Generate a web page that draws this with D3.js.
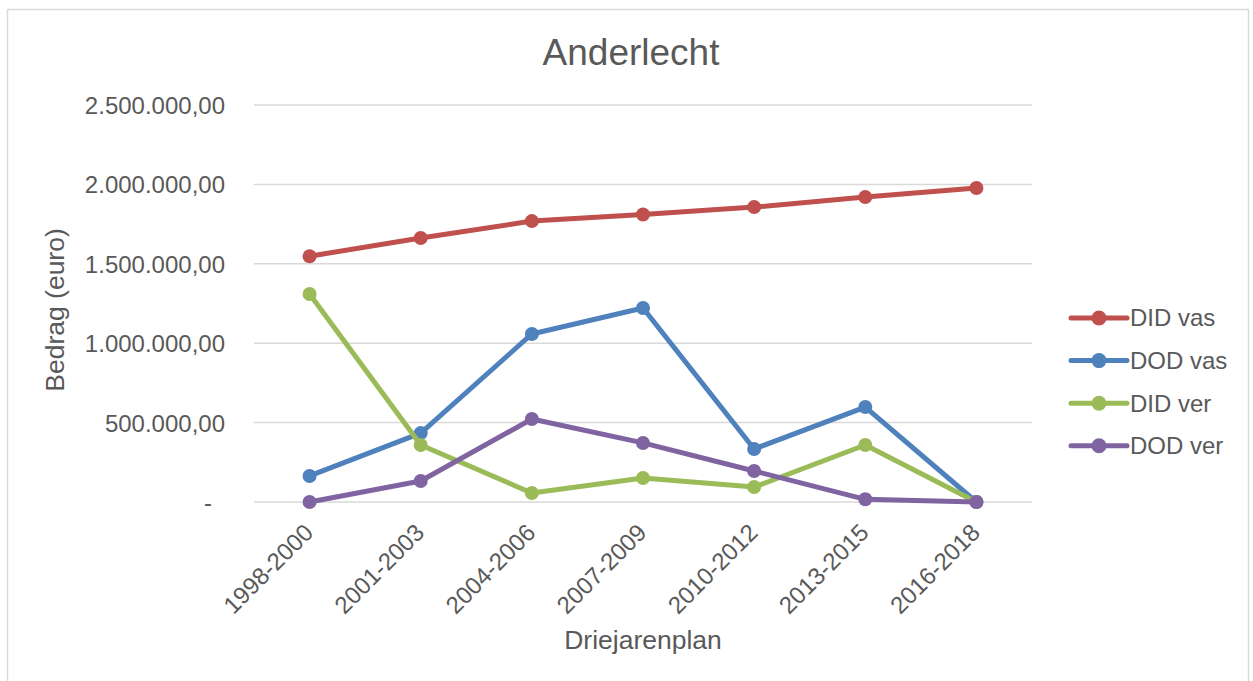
<!DOCTYPE html>
<html><head><meta charset="utf-8">
<script src="https://cdn.jsdelivr.net/npm/d3@7"></script>
<style>body{margin:0;background:#fff;} text{font-family:"Liberation Sans",Arial,sans-serif;fill:#595959;}</style>
</head><body>
<svg id="c" width="1253" height="681"></svg>
<script>
const categories = ["1998-2000","2001-2003","2004-2006","2007-2009","2010-2012","2013-2015","2016-2018"];
const seriesNames = ["DID vas","DOD vas","DID ver","DOD ver"];
const didVas = [1548000,1662000,1769000,1810000,1857000,1920000,1977000];
const dodVas = [164000,434000,1058000,1222000,334000,598000,0];
const didVer = [1310000,359000,57000,151000,94000,359000,0];
const dodVer = [0,132000,523000,372000,195000,17000,0];
const yTicks = [0,500000,1000000,1500000,2000000,2500000];
const colors = ["#C0504D","#4F81BD","#9BBB59","#8064A2"];
const allSeries = [didVas,dodVas,didVer,dodVer];

const svg = d3.select("#c");
svg.append("rect").attr("x",7.5).attr("y",9.5).attr("width",1241).attr("height",680).attr("fill","#fff").attr("stroke","#d9d9d9").attr("stroke-width",1.5);

const x = d3.scaleBand().domain(categories).range([254,1032]);
const y = d3.scaleLinear().domain([0,2500000]).range([502,105]);

const fmt = v => v===0 ? "-" : d3.formatLocale({decimal:",",thousands:".",grouping:[3]}).format(",.2f")(v);

// gridlines
svg.append("g").selectAll("line").data(yTicks).join("line")
  .attr("x1",254).attr("x2",1032).attr("y1",d=>y(d)).attr("y2",d=>y(d))
  .attr("stroke","#d9d9d9").attr("stroke-width",1.5);

// y axis labels
const yAxis = d3.axisLeft(y).tickValues(yTicks).tickFormat(fmt).tickSize(0).tickPadding(29);
const gy = svg.append("g").attr("transform","translate(254,0)").call(yAxis);
gy.select(".domain").remove();
gy.selectAll("text").style("font-size","24px").attr("fill","#595959").attr("dy","0.35em")
  .attr("dx",d=>d===0?-13:0);

// x axis labels
const xAxis = d3.axisBottom(x).tickSize(0).tickPadding(0);
const gx = svg.append("g").attr("transform","translate(0,502)").call(xAxis);
gx.select(".domain").remove();
gx.selectAll("text").style("font-size","24px").attr("fill","#595959")
  .attr("text-anchor","end").attr("dy","0").attr("y",0)
  .attr("transform","translate(5,32) rotate(-45)");

// lines
const line = d3.line().x((d,i)=>x(categories[i])+x.bandwidth()/2).y(d=>y(d));
allSeries.forEach((s,k)=>{
  svg.append("path").datum(s).attr("d",line).attr("fill","none")
    .attr("stroke",colors[k]).attr("stroke-width",5).attr("stroke-linejoin","round").attr("stroke-linecap","round");
  svg.append("g").selectAll("circle").data(s).join("circle")
    .attr("cx",(d,i)=>x(categories[i])+x.bandwidth()/2).attr("cy",d=>y(d)).attr("r",7).attr("fill",colors[k]);
});

// title
svg.append("text").attr("x",631).attr("y",65).attr("text-anchor","middle").style("font-size","37px").text("Anderlecht");
// axis titles
svg.append("text").attr("x",643).attr("y",649).attr("text-anchor","middle").style("font-size","26.5px").text("Driejarenplan");
svg.append("text").attr("transform","translate(64,310) rotate(-90)").attr("text-anchor","middle").style("font-size","26.5px").text("Bedrag (euro)");

// legend
const lg = svg.append("g").selectAll("g").data(seriesNames).join("g")
  .attr("transform",(d,i)=>`translate(1071,${318+i*42.6})`);
lg.append("line").attr("x1",0).attr("x2",56).attr("y1",0).attr("y2",0)
  .attr("stroke",(d,i)=>colors[i]).attr("stroke-width",5).attr("stroke-linecap","round");
lg.append("circle").attr("cx",28).attr("cy",0).attr("r",7.5).attr("fill",(d,i)=>colors[i]);
lg.append("text").attr("x",59).attr("y",0).attr("dy","0.35em").style("font-size","24px").text(d=>d);
</script>
</body></html>
